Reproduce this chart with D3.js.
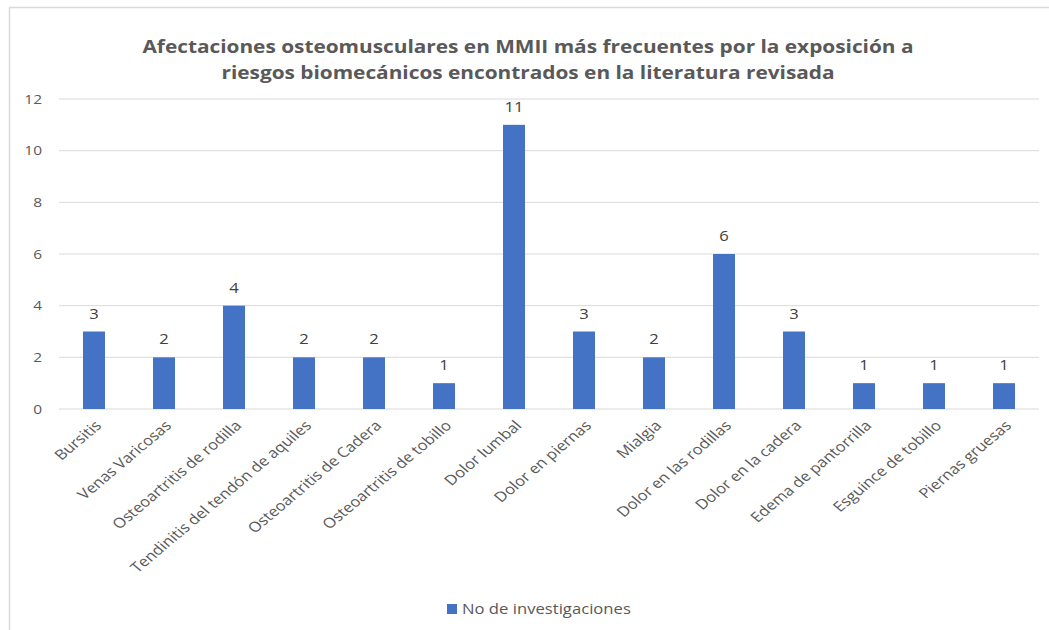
<!DOCTYPE html>
<html>
<head>
<meta charset="utf-8">
<script src="https://cdn.jsdelivr.net/npm/d3@7"></script>
<style>
  body { margin: 0; background: #fff; }
  svg { display: block; font-family: 'Open Sans', sans-serif; }
</style>
</head>
<body>
<div id="chart"></div>
<script>
const categories = [
    'Bursitis', 'Venas Varicosas', 'Osteoartritis de rodilla', 'Tendinitis del tendón de aquiles',
    'Osteoartritis de Cadera', 'Osteoartritis de tobillo', 'Dolor lumbal', 'Dolor en piernas',
    'Mialgia', 'Dolor en las rodillas', 'Dolor en la cadera', 'Edema de pantorrilla',
    'Esguince de tobillo', 'Piernas gruesas'
];
const values = [3, 2, 4, 2, 2, 1, 11, 3, 2, 6, 3, 1, 1, 1];
const yTicks = [0, 2, 4, 6, 8, 10, 12];
const titleLines = [
    'Afectaciones osteomusculares en MMII más frecuentes por la exposición a',
    'riesgos biomecánicos encontrados en la literatura revisada'
];
const seriesName = 'No de investigaciones';

const W = 1049, H = 630;
// the source picture is a little stretched sideways, so text gets a horizontal scale
const stretch = 1.19;
const margin = { top: 99, right: 10, bottom: 221, left: 59 };
const width = 1039 - margin.left;
const height = 409 - margin.top;

const svg = d3.select('#chart').append('svg')
    .attr('width', W)
    .attr('height', H);

// Chart frame
svg.append('rect')
    .attr('x', 9.5).attr('y', 7.5)
    .attr('width', W).attr('height', H)
    .attr('fill', 'none')
    .attr('stroke', '#d9d9d9')
    .attr('stroke-width', 1.5);

// Title
svg.append('text')
    .attr('transform', `translate(528,53) scale(${stretch},1)`)
    .attr('text-anchor', 'middle')
    .attr('fill', '#595959')
    .style('font-size', '17.5px')
    .style('font-weight', 'bold')
    .selectAll('tspan')
    .data(titleLines)
    .enter().append('tspan')
    .attr('x', 0)
    .attr('y', (d, i) => i * 26)
    .text(d => d);

const g = svg.append('g')
    .attr('transform', `translate(${margin.left},${margin.top})`);

const xScale = d3.scaleBand()
    .domain(categories)
    .range([0, width])
    .paddingInner(0.686)
    .paddingOuter(0.343);

const yScale = d3.scaleLinear()
    .domain([0, 12])
    .range([height, 0]);

// Gridlines
g.append('g')
    .selectAll('line')
    .data(yTicks)
    .enter().append('line')
    .attr('x1', 0).attr('x2', width)
    .attr('y1', d => yScale(d)).attr('y2', d => yScale(d))
    .attr('stroke', '#d9d9d9')
    .attr('stroke-width', 1);

// Y axis labels
const yAxis = g.append('g')
    .call(d3.axisLeft(yScale).tickValues(yTicks).tickSize(0).tickPadding(0));
yAxis.select('.domain').remove();
yAxis.selectAll('text')
    .attr('x', 0)
    .attr('transform', `translate(-17,0) scale(${stretch},1)`)
    .attr('fill', '#595959')
    .style('font-size', '13px')
    .style('font-family', "'Open Sans', sans-serif");

// X axis labels
const xAxis = g.append('g')
    .attr('transform', `translate(0,${height})`)
    .call(d3.axisBottom(xScale).tickSize(0).tickPadding(0));
xAxis.select('.domain').remove();
xAxis.selectAll('text')
    .attr('y', 0)
    .attr('fill', '#595959')
    .style('font-size', '14px')
    .style('font-family', "'Open Sans', sans-serif")
    .attr('text-anchor', 'end')
    .attr('dx', '0.2em')
    .attr('dy', '0.35em')
    .attr('transform', `translate(2,16) scale(${stretch},1) rotate(-45)`);

// Bars
g.selectAll('.bar')
    .data(values)
    .enter().append('rect')
    .attr('class', 'bar')
    .attr('x', (d, i) => xScale(categories[i]))
    .attr('y', d => yScale(d))
    .attr('width', xScale.bandwidth())
    .attr('height', d => height - yScale(d))
    .attr('fill', '#4472c4');

// Data labels
g.selectAll('.bar-label')
    .data(values)
    .enter().append('text')
    .attr('class', 'bar-label')
    .attr('transform', (d, i) =>
        `translate(${xScale(categories[i]) + xScale.bandwidth() / 2},${yScale(d) - 13}) scale(${stretch},1)`)
    .attr('text-anchor', 'middle')
    .attr('fill', '#404040')
    .style('font-size', '14px')
    .text(d => d);

// Legend
const legend = svg.append('g')
    .attr('transform', 'translate(447,604)');
legend.append('rect')
    .attr('width', 10).attr('height', 10)
    .attr('fill', '#4472c4');
legend.append('text')
    .attr('transform', `translate(15,10) scale(${stretch},1)`)
    .attr('fill', '#595959')
    .style('font-size', '14px')
    .text(seriesName);
</script>
</body>
</html>
